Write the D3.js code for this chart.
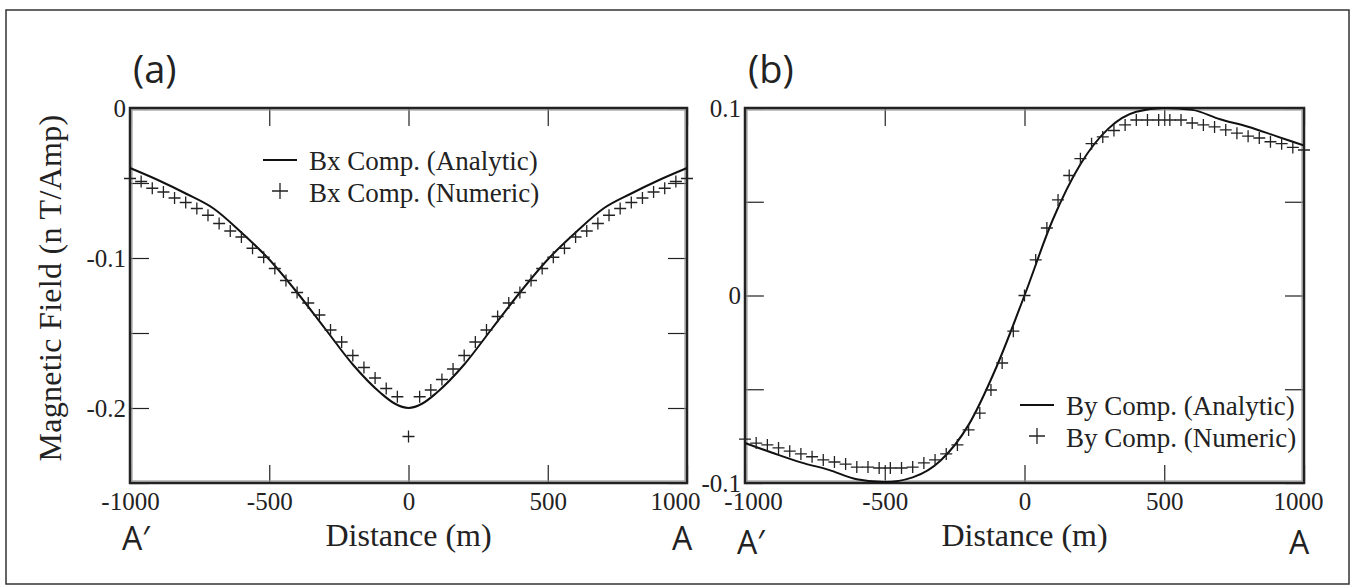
<!DOCTYPE html>
<html>
<head>
<meta charset="utf-8">
<script src="https://cdn.jsdelivr.net/npm/d3@7"></script>
<style>
  body { margin: 0; background: #fff; }
  svg { display: block; }
  .tick text { font-family: "Liberation Serif", "Times New Roman", serif; font-size: 25px; fill: #222; }
  .tick line { stroke: #222; stroke-width: 1.2; }
  .domain { display: none; }
</style>
</head>
<body>
<div id="chart"></div>
<script>
var width = 1353, height = 587;

// ---- data ----
var xTicks = [-1000, -500, 0, 500, 1000];
var yTicksA = [0, -0.05, -0.1, -0.15, -0.2, -0.25];
var yTicksB = [0.1, 0.05, 0, -0.05, -0.1];

// panel (a): Bx, analytic
var bxAnalyticX = [-1000, -900, -800, -700, -600, -500, -400, -300, -200, -100, -50, 0, 50, 100, 200, 300, 400, 500, 600, 700, 800, 900, 1000];
var bxAnalyticY = [-0.040, -0.048, -0.057, -0.067, -0.083, -0.101, -0.123, -0.147, -0.171, -0.190, -0.197, -0.200, -0.197, -0.190, -0.171, -0.147, -0.123, -0.101, -0.083, -0.067, -0.057, -0.048, -0.040];

// numeric every 40 m
var numX = [-1000, -960, -920, -880, -840, -800, -760, -720, -680, -640, -600, -560, -520, -480, -440, -400, -360, -320, -280, -240, -200, -160, -120, -80, -40, 0,
  40, 80, 120, 160, 200, 240, 280, 320, 360, 400, 440, 480, 520, 560, 600, 640, 680, 720, 760, 800, 840, 880, 920, 960, 1000];
var bxNumericY = [-0.047, -0.049, -0.0535, -0.056, -0.060, -0.063, -0.067, -0.0715, -0.077, -0.082, -0.086, -0.0935, -0.0995, -0.107, -0.115, -0.123, -0.130, -0.138, -0.148, -0.156, -0.165, -0.173, -0.180, -0.187, -0.1925, -0.219,
  -0.1925, -0.188, -0.181, -0.174, -0.165, -0.156, -0.148, -0.139, -0.130, -0.123, -0.115, -0.107, -0.0995, -0.0935, -0.086, -0.082, -0.077, -0.0715, -0.067, -0.063, -0.060, -0.056, -0.0535, -0.049, -0.047];

// panel (b): By
var byAnalyticX = [-1000, -900, -800, -700, -600, -500, -400, -300, -200, -100, 0, 100, 200, 300, 400, 500, 600, 700, 800, 900, 1000];
var byAnalyticY = [-0.0787, -0.084, -0.089, -0.093, -0.098, -0.0995, -0.097, -0.088, -0.069, -0.038, 0.0, 0.040, 0.070, 0.089, 0.098, 0.100, 0.099, 0.094, 0.090, 0.085, 0.080];
var byNumericY = [-0.0766, -0.0787, -0.0797, -0.0813, -0.083, -0.0845, -0.086, -0.0877, -0.0888, -0.0899, -0.0915, -0.0915, -0.092, -0.092, -0.092, -0.0915, -0.0893, -0.0877, -0.0845, -0.0797, -0.0717, -0.0627, -0.0504, -0.036, -0.019, 0.0,
  0.019, 0.036, 0.051, 0.064, 0.073, 0.081, 0.0846, 0.088, 0.091, 0.0936, 0.0936, 0.0936, 0.0936, 0.0936, 0.092, 0.091, 0.0899, 0.0883, 0.0866, 0.085, 0.084, 0.082, 0.081, 0.079, 0.0776];

var svg = d3.select('#chart').append('svg')
  .attr('width', width)
  .attr('height', height);

// outer frame
svg.append('rect')
  .attr('x', 6).attr('y', 10)
  .attr('width', 1343).attr('height', 574)
  .attr('fill', 'none').attr('stroke', '#333').attr('stroke-width', 1.5);

var serif = '"Liberation Serif", "Times New Roman", serif';
var sans = '"Open Sans", "Noto Sans", sans-serif';

// plain hyphen labels, only on the 0.1 steps
function fmt(v) {
  var r = Math.round(v * 100);
  if (r % 10 !== 0) return '';
  return String(+v.toFixed(2));
}

function panel(opt) {
  var x = d3.scaleLinear().domain([-1000, 1000]).range([opt.left, opt.right]);
  var y = d3.scaleLinear().domain(opt.ydomain).range([483, 108]);
  var g = svg.append('g');

  // ticks
  var bx = g.append('g').attr('transform', 'translate(0,483)')
    .call(d3.axisBottom(x).tickValues(xTicks).tickSize(-18).tickFormat(function(d) { return String(d); }));
  bx.selectAll('text')
    .attr('y', 9).attr('dy', '0.71em')
    .attr('dx', function(d) { return d === -1000 ? opt.dxL : (d === 1000 ? opt.dxR : 0); });
  g.append('g').attr('transform', 'translate(0,108)')
    .call(d3.axisTop(x).tickValues(xTicks).tickSize(-18).tickFormat(''));
  g.append('g').attr('transform', 'translate(' + opt.left + ',0)')
    .call(d3.axisLeft(y).tickValues(opt.yticks).tickSize(-19).tickPadding(4).tickFormat(fmt));
  g.append('g').attr('transform', 'translate(' + opt.right + ',0)')
    .call(d3.axisRight(y).tickValues(opt.yticks).tickSize(-19).tickFormat(''));

  // frame (double line look)
  g.append('rect')
    .attr('x', opt.left + 2).attr('y', 110)
    .attr('width', opt.right - opt.left - 4).attr('height', 371)
    .attr('fill', 'none').attr('stroke', '#999').attr('stroke-width', 1.2);
  g.append('rect')
    .attr('x', opt.left).attr('y', 108)
    .attr('width', opt.right - opt.left).attr('height', 375)
    .attr('fill', 'none').attr('stroke', '#222').attr('stroke-width', 2.5);

  // analytic curve
  var line = d3.line()
    .x(function(d) { return x(d[0]); })
    .y(function(d) { return y(d[1]); })
    .curve(d3.curveMonotoneX);
  g.append('path')
    .datum(d3.zip(opt.ax, opt.ay))
    .attr('d', line)
    .attr('fill', 'none').attr('stroke', '#111').attr('stroke-width', 2);

  // numeric markers
  g.selectAll('path.num')
    .data(d3.zip(numX, opt.ny))
    .enter().append('path')
    .attr('class', 'num')
    .attr('transform', function(d) { return 'translate(' + x(d[0]) + ',' + y(d[1]) + ')'; })
    .attr('d', 'M-6,0H6M0,-6V6')
    .attr('stroke', '#222').attr('stroke-width', 1.3);

  // legend
  g.append('line')
    .attr('x1', opt.leg[0]).attr('x2', opt.leg[0] + 34)
    .attr('y1', opt.leg[1]).attr('y2', opt.leg[1])
    .attr('stroke', '#111').attr('stroke-width', 2);
  g.append('path')
    .attr('transform', 'translate(' + (opt.leg[0] + 17) + ',' + (opt.leg[1] + 31) + ')')
    .attr('d', 'M-8,0H8M0,-8V8')
    .attr('stroke', '#222').attr('stroke-width', 1.3);
  g.append('text')
    .attr('x', opt.leg[0] + 46).attr('y', opt.leg[1] + 10)
    .attr('font-family', serif).attr('font-size', 27).attr('fill', '#222')
    .text(opt.name + ' Comp. (Analytic)');
  g.append('text')
    .attr('x', opt.leg[0] + 46).attr('y', opt.leg[1] + 42)
    .attr('font-family', serif).attr('font-size', 27).attr('fill', '#222')
    .text(opt.name + ' Comp. (Numeric)');

  // panel letter, x title, end labels
  g.append('text')
    .attr('x', opt.left + 3).attr('y', 83)
    .attr('font-family', sans).attr('font-size', 38).attr('fill', '#222')
    .text(opt.letter);
  g.append('text')
    .attr('x', x(0)).attr('y', 546)
    .attr('text-anchor', 'middle')
    .attr('font-family', serif).attr('font-size', 32).attr('fill', '#222')
    .text('Distance (m)');
  g.append('text')
    .attr('x', opt.left - 8).attr('y', opt.endY)
    .attr('font-family', sans).attr('font-size', 32).attr('fill', '#222')
    .text('A\u2032');
  g.append('text')
    .attr('x', opt.right - 5).attr('y', opt.endY)
    .attr('text-anchor', 'middle')
    .attr('font-family', sans).attr('font-size', 32).attr('fill', '#222')
    .text('A');
}

panel({
  left: 130, right: 687, ydomain: [-0.25, 0], yticks: yTicksA,
  ax: bxAnalyticX, ay: bxAnalyticY, ny: bxNumericY,
  leg: [263, 160], name: 'Bx', letter: '(a)', endY: 550, dxL: 0, dxR: -12
});

panel({
  left: 745, right: 1304, ydomain: [-0.1, 0.1], yticks: yTicksB,
  ax: byAnalyticX, ay: byAnalyticY, ny: byNumericY,
  leg: [1020, 405], name: 'By', letter: '(b)', endY: 554, dxL: 8, dxR: -6
});

// y axis title
svg.append('text')
  .attr('transform', 'translate(61,288) rotate(-90)')
  .attr('text-anchor', 'middle')
  .attr('font-family', serif).attr('font-size', 32).attr('fill', '#222')
  .attr('letter-spacing', 0.3)
  .text('Magnetic Field (n T/Amp)');
</script>
</body>
</html>
